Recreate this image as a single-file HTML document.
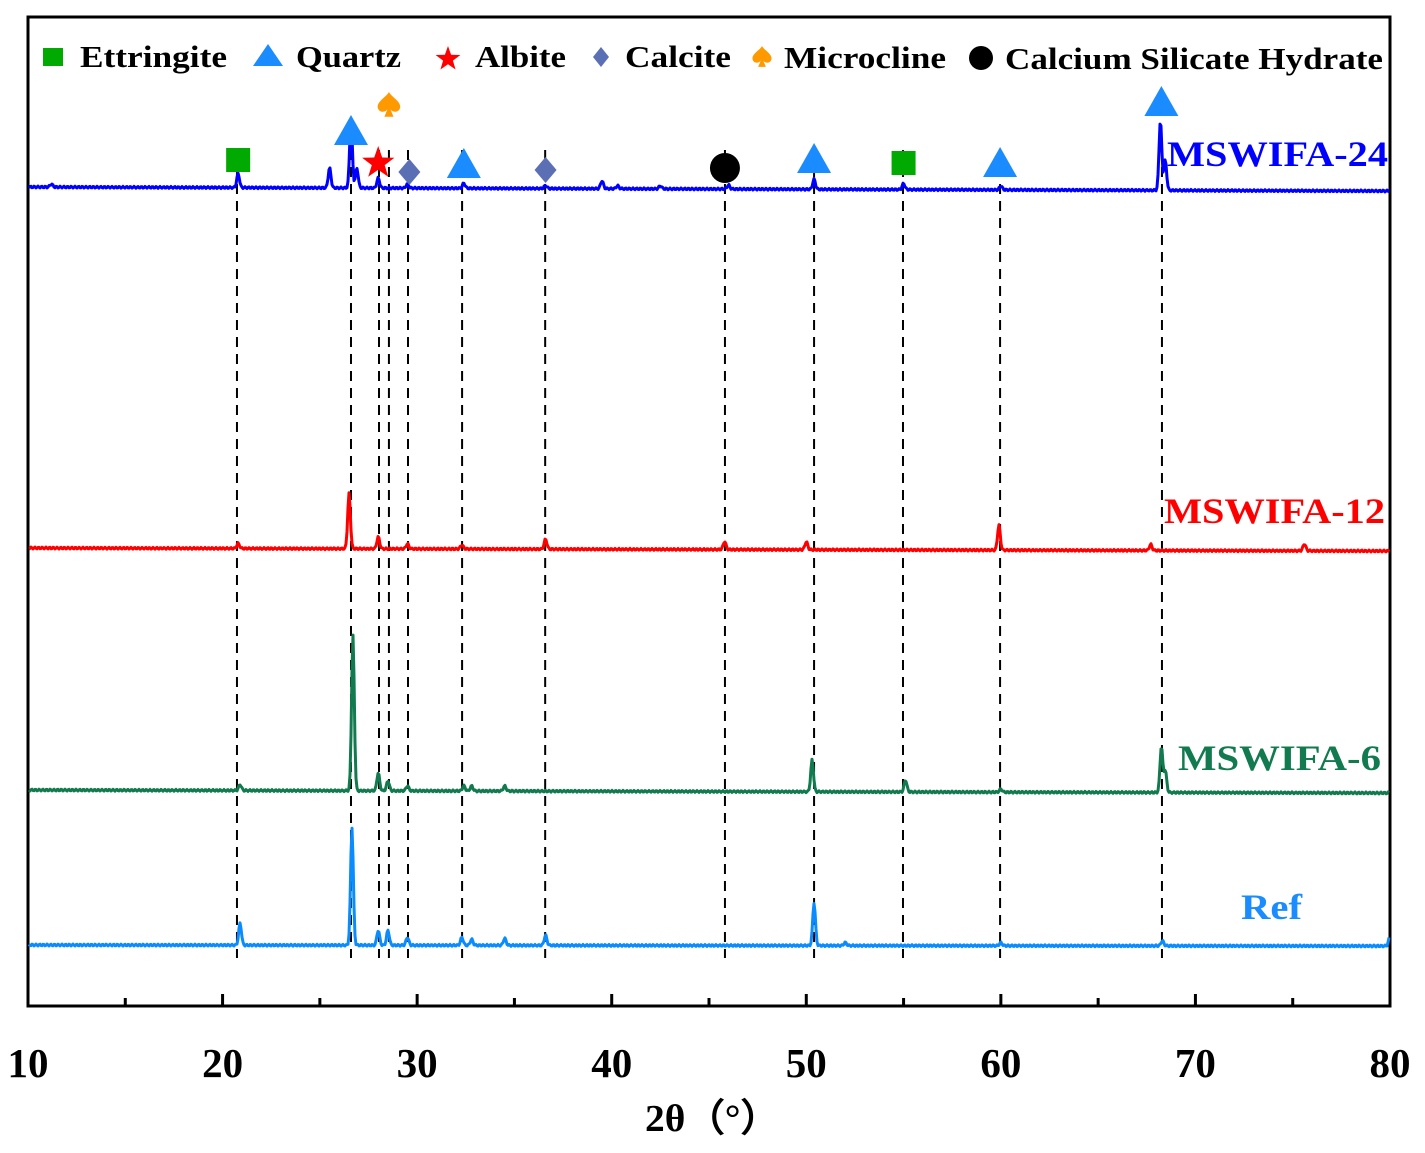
<!DOCTYPE html>
<html><head><meta charset="utf-8"><style>
body{margin:0;background:#fff}
svg{display:block;font-family:"Liberation Serif",serif;font-weight:bold}
</style></head><body>
<svg id="c" width="1425" height="1153">
<rect x="28" y="17" width="1362" height="989" fill="none" stroke="#000" stroke-width="3"/>
<g id="ticks"></g>
<g id="dash"></g>
<g id="series"></g>
<g id="marks"></g>
<g id="legend" font-size="31">
<rect x="43" y="48" width="20" height="18" fill="#00aa00"/>
<text x="80" y="67" textLength="147" lengthAdjust="spacingAndGlyphs">Ettringite</text>
<polygon points="268,44 253,66 283,66" fill="#1a8cff"/>
<text x="296" y="67" textLength="105" lengthAdjust="spacingAndGlyphs">Quartz</text>
<text x="475" y="67" textLength="91" lengthAdjust="spacingAndGlyphs">Albite</text>
<polygon points="601,47 609,57 601,67 593,57" fill="#5b6fb5"/>
<text x="625" y="67" textLength="106" lengthAdjust="spacingAndGlyphs">Calcite</text>
<text x="784" y="68" textLength="162" lengthAdjust="spacingAndGlyphs">Microcline</text>
<circle cx="981" cy="58" r="12" fill="#000"/>
<text x="1005" y="69" textLength="378" lengthAdjust="spacingAndGlyphs">Calcium Silicate Hydrate</text>
</g>
<g font-size="36">
<text x="1167" y="166" textLength="221" lengthAdjust="spacingAndGlyphs" fill="#0000ff">MSWIFA-24</text>
<text x="1164" y="523" textLength="221" lengthAdjust="spacingAndGlyphs" fill="#ff0000">MSWIFA-12</text>
<text x="1178" y="770" textLength="203" lengthAdjust="spacingAndGlyphs" fill="#117a4f">MSWIFA-6</text>
<text x="1241" y="919" textLength="61" lengthAdjust="spacingAndGlyphs" fill="#1a8cff">Ref</text>
</g>
<text x="645" y="1131" font-size="38" textLength="135" lengthAdjust="spacingAndGlyphs">2θ（°）</text>
</svg>
<script>
const xTicks=[10,20,30,40,50,60,70,80];
const minorTicks=[15,25,35,45,55,65,75];
const refLines=[20.74,26.6,28.04,28.55,29.53,32.31,36.58,45.82,50.4,54.97,59.96,68.28];
const refPeaks=[[20.9,22],[26.65,118],[28.0,15],[28.5,15],[29.5,8],[32.3,8],[32.8,6],[34.5,7],[36.6,10],[50.4,43],[52,3],[60,3],[68.3,5],[80,10]];
const m6Peaks=[[20.9,6],[26.7,155],[28.0,18],[28.5,10],[29.5,5],[32.4,5],[32.8,5],[34.5,5],[50.3,32],[55.1,12],[60,3],[68.25,46],[68.45,22]];
const m12Peaks=[[20.8,5],[26.5,55],[28.0,12],[29.5,5],[32.3,4],[36.6,10],[45.8,8],[50.0,8],[59.9,25],[67.7,6],[75.6,7]];
const m24Peaks=[[11.2,3],[20.8,14],[25.5,20],[26.6,68],[26.9,20],[28.0,10],[29.5,4],[32.4,5],[36.6,3],[39.5,8],[40.3,3],[42.5,3],[46,4],[50.4,10],[55,6],[60,4],[68.2,70],[68.45,30]];
const baseL=[945,790,548,187], baseR=[946,793,551,191];
const X=v=>28+(v-10)*1362/70;
const NS='http://www.w3.org/2000/svg';
function mk(t,a,p){const e=document.createElementNS(NS,t);for(const k in a)e.setAttribute(k,a[k]);p.appendChild(e);return e;}
function starPts(cx,cy,R){let s=[];for(let k=0;k<10;k++){const r=k%2?R*0.4:R;const a=-Math.PI/2+k*Math.PI/5;s.push((cx+r*Math.cos(a)).toFixed(1)+','+(cy+r*Math.sin(a)).toFixed(1));}return s.join(' ');}
function spadeD(x,y,s){return `M${x},${y-s} C${x+s*0.2},${y-s*0.6} ${x+s},${y-s*0.25} ${x+s*0.85},${y+s*0.25} C${x+s*0.7},${y+s*0.65} ${x+s*0.2},${y+s*0.55} ${x+s*0.1},${y+s*0.3} L${x+s*0.35},${y+s*0.9} L${x-s*0.35},${y+s*0.9} L${x-s*0.1},${y+s*0.3} C${x-s*0.2},${y+s*0.55} ${x-s*0.7},${y+s*0.65} ${x-s*0.85},${y+s*0.25} C${x-s},${y-s*0.25} ${x-s*0.2},${y-s*0.6} ${x},${y-s} Z`;}
const lg=document.getElementById('legend');
const ls=mk('polygon',{points:starPts(448,59,13),fill:'#ff0000'},lg);


const lsp=mk('path',{d:spadeD(762,57,11),fill:'#ff9900'},lg);


const tg=document.getElementById('ticks');
xTicks.forEach(v=>{
 const l=mk('line',{x1:X(v),x2:X(v),y1:1006,y2:994,stroke:'#000','stroke-width':3},tg);
 
 
 const t=mk('text',{x:X(v),y:1077,'font-size':41,'text-anchor':'middle'},tg);t.textContent=v;
 
 
});
minorTicks.forEach(v=>{
 const l=mk('line',{x1:X(v),x2:X(v),y1:1006,y2:998,stroke:'#000','stroke-width':3},tg);
 
 
});
const dg=document.getElementById('dash');
refLines.forEach(v=>{
 const l=mk('line',{x1:X(v),x2:X(v),y1:150,y2:958,stroke:'#000','stroke-width':2,'stroke-dasharray':'10,7'},dg);
 
 
});
const sg=document.getElementById('series');
function curve(peaks,i,color,name){
 let d='';
 for(let px=29;px<=1389;px++){
  const t=10+(px-28)*70/1362;
  let y=baseL[i]+(baseR[i]-baseL[i])*(px-28)/1362+Math.sin(px*1.7+i)*0.9;
  peaks.forEach(([c,h])=>{y-=h*Math.exp(-Math.pow((t-c)/0.07,2)/2);});
  d+=(d?'L':'M')+px+','+y.toFixed(1);
 }
 const p=mk('path',{d:d,fill:'none',stroke:color,'stroke-width':3,'stroke-linejoin':'round'},sg);
 
 
}
curve(refPeaks,0,'#0a8cff','ref-curve');
curve(m6Peaks,1,'#117a4f','mswifa-6-curve');
curve(m12Peaks,2,'#ff0000','mswifa-12-curve');
curve(m24Peaks,3,'#0000ff','mswifa-24-curve');
const markerPos=[20.8,26.6,32.4,28.0,29.6,28.55,36.6,45.82,50.4,55.0,59.96,68.25];
const markerY=[160,132,165,163,172,105,170,168,160,163,164,103];
const mg=document.getElementById('marks');
const kinds=['sq','tri','tri','star','dia','spade','dia','circ','tri','sq','tri','tri'];
kinds.forEach((k,j)=>{
 const x=X(markerPos[j]),y=markerY[j];let e;
 if(k==='sq')e=mk('rect',{x:x-12,y:y-12,width:24,height:24,fill:'#00aa00'},mg);
 if(k==='tri')e=mk('polygon',{points:`${x},${y-17} ${x-17},${y+13} ${x+17},${y+13}`,fill:'#1a8cff'},mg);
 if(k==='star')e=mk('polygon',{points:starPts(x,y,17),fill:'#ff0000'},mg);
 if(k==='dia')e=mk('polygon',{points:`${x},${y-13} ${x+11},${y} ${x},${y+13} ${x-11},${y}`,fill:'#5b6fb5'},mg);
 if(k==='spade')e=mk('path',{d:spadeD(x,y,13),fill:'#ff9900'},mg);
 if(k==='circ')e=mk('circle',{cx:x,cy:y,r:15,fill:'#000'},mg);
 
 
});
</script>
</body></html>
